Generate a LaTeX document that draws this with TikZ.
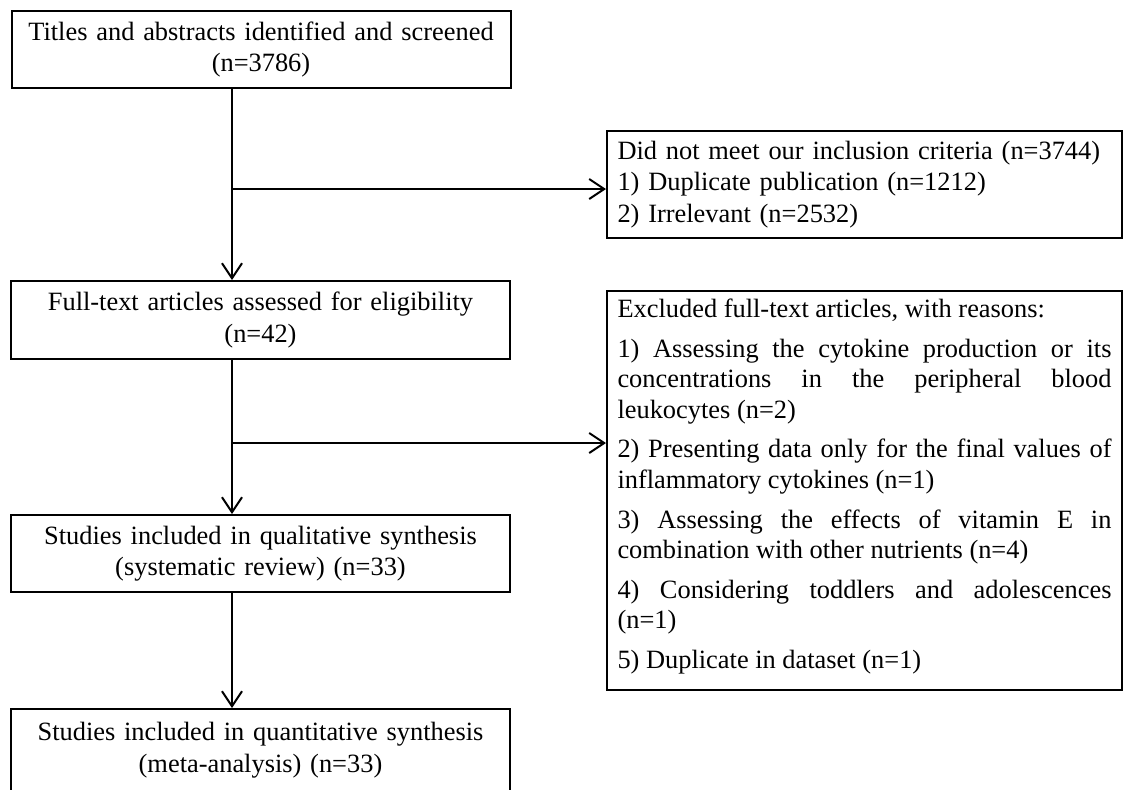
\documentclass[tikz,border=0pt]{standalone}
\usepackage{fontspec}
\setmainfont{Liberation Serif}
\usetikzlibrary{arrows.meta}
\begin{document}
\begin{tikzpicture}[x=0.5pt,y=-0.5pt,
  box/.style={draw, line width=1pt, inner sep=0pt, font=\fontsize{13.2}{15.75}\selectfont},
  cbox/.style={box, align=center, text width=240pt, minimum width=249.5pt},
  lbox/.style={box, inner xsep=5.25pt, text width=247pt, minimum width=257.5pt},
  link/.style={line width=1pt},
  arr/.style={line width=1pt, -{Straight Barb[length=7.5pt,width=10pt]}}]
\useasboundingbox (0,0) rectangle (1139,789);

\node[cbox, minimum height=38.5pt] (b1) at (261,49.5)
  {Titles and abstracts identified and screened\\(n=3786)};
\node[cbox, minimum height=39pt] (b2) at (260.5,320)
  {Full-text articles assessed for eligibility\\(n=42)};
\node[cbox, minimum height=38.5pt] (b4) at (260.5,553.5)
  {Studies included in qualitative synthesis\\(systematic review) (n=33)};
\node[cbox, minimum height=41pt] (b5) at (260.5,750)
  {Studies included in quantitative synthesis\\(meta-analysis) (n=33)};

\node[lbox, align=left, minimum height=53.5pt] (bA) at (864.5,184.5)
  {Did not meet our inclusion criteria (n=3744)\\1) Duplicate publication (n=1212)\\2) Irrelevant (n=2532)};

\node[lbox, align=justify, minimum height=199.5pt] (bB) at (864.5,490.5)
  {\fontsize{13.2}{15.4}\selectfont\setlength{\parskip}{4.25pt}\tolerance=10000 \hyphenpenalty=10000
   Excluded full-text articles, with reasons:\par
   1) Assessing the cytokine production or its\linebreak concentrations in the peripheral blood\linebreak leukocytes (n=2)\par
   2) Presenting data only for the final values of\linebreak inflammatory cytokines (n=1)\par
   3) Assessing the effects of vitamin E in\linebreak combination with other nutrients (n=4)\par
   4) Considering toddlers and adolescences\linebreak (n=1)\par
   5) Duplicate in dataset (n=1)\par\kern4pt};

\coordinate (j1) at (232,189);
\coordinate (j2) at (232,443);

\draw[link] (b1.south -| j1) -- (j1);
\draw[arr] (j1) -- (b2.north -| j1);
\draw[arr] (j1) -- (j1 -| bA.west);
\draw[link] (b2.south -| j2) -- (j2);
\draw[arr] (j2) -- (b4.north -| j2);
\draw[arr] (j2) -- (j2 -| bB.west);
\draw[arr] (b4.south -| j2) -- (b5.north -| j2);
\end{tikzpicture}
\end{document}
